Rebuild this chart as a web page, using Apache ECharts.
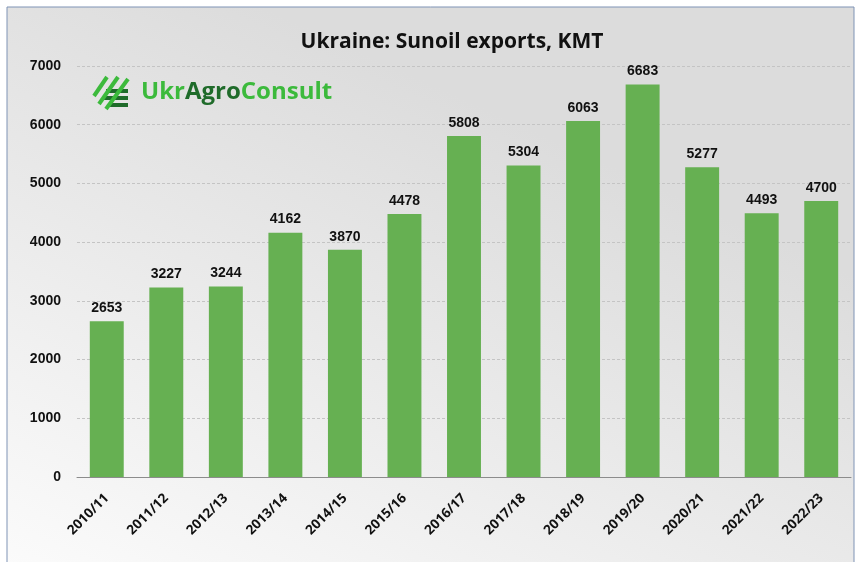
<!DOCTYPE html>
<html>
<head>
<meta charset="utf-8">
<script src="https://cdn.jsdelivr.net/npm/echarts@6/dist/echarts.min.js"></script>
<style>
  html, body { margin: 0; padding: 0; background: #ffffff; }
  #chart { width: 862px; height: 562px; }
</style>
</head>
<body>
<div id="chart"></div>
<script>
const seasons = ['2010/11', '2011/12', '2012/13', '2013/14', '2014/15', '2015/16', '2016/17',
  '2017/18', '2018/19', '2019/20', '2020/21', '2021/22', '2022/23'];
const exportsKmt = [2653, 3227, 3244, 4162, 3870, 4478, 5808, 5304, 6063, 6683, 5277, 4493, 4700];
const yTicks = [0, 1000, 2000, 3000, 4000, 5000, 6000, 7000];

const chart = echarts.init(document.getElementById('chart'));

const option = {
  animation: false,
  backgroundColor: '#ffffff',
  title: {
    text: 'Ukraine: Sunoil exports, KMT',
    left: 447,
    top: 27,
    textAlign: 'center',
    textStyle: { color: '#111', fontSize: 21, fontWeight: 'bold', fontFamily: 'Open Sans' }
  },
  graphic: [
    {
      type: 'rect', z: -10, silent: true,
      shape: { x: 7, y: 7, width: 847, height: 560 },
      style: {
        fill: new echarts.graphic.LinearGradient(0.3, 0, 0, 1, [
          { offset: 0, color: '#dcdcdc' },
          { offset: 1, color: '#fbfbfb' }
        ]),
        stroke: '#7f93b5', lineWidth: 1
      }
    },
    // logo icon: slashes + bars
    { type: 'line', z: 10, shape: { x1: 107, y1: 77, x2: 94, y2: 96 }, style: { stroke: '#3cba3c', lineWidth: 4 } },
    { type: 'line', z: 10, shape: { x1: 118, y1: 77, x2: 99, y2: 104 }, style: { stroke: '#3cba3c', lineWidth: 4 } },
    { type: 'line', z: 10, shape: { x1: 128, y1: 79, x2: 106, y2: 109 }, style: { stroke: '#3cba3c', lineWidth: 4 } },
    { type: 'rect', z: 9, shape: { x: 106, y: 89, width: 22, height: 4 }, style: { fill: '#1f6b2a' } },
    { type: 'rect', z: 9, shape: { x: 104, y: 96, width: 24, height: 4 }, style: { fill: '#1f6b2a' } },
    { type: 'rect', z: 9, shape: { x: 108, y: 103, width: 20, height: 4 }, style: { fill: '#1f6b2a' } },
    {
      type: 'text', z: 10, left: 141, top: 80,
      style: {
        text: '{a|Ukr}{b|Agro}{a|Consult}',
        rich: {
          a: { fill: '#3cba3c', fontSize: 24, fontWeight: 'bold', fontFamily: 'Open Sans' },
          b: { fill: '#1f6b2a', fontSize: 24, fontWeight: 'bold', fontFamily: 'Open Sans' }
        }
      }
    }
  ],
  grid: { left: 77, right: 11, top: 66, bottom: 85, containLabel: false },
  xAxis: {
    type: 'category',
    data: seasons,
    axisLine: { lineStyle: { color: '#8c8c8c', width: 1 } },
    axisTick: { show: false },
    axisLabel: {
      rotate: 45, color: '#111', fontSize: 13.5, fontWeight: 'bold',
      fontFamily: 'Open Sans', margin: 19
    }
  },
  yAxis: {
    type: 'value',
    min: yTicks[0],
    max: yTicks[yTicks.length - 1],
    interval: 1000,
    axisLine: { show: false },
    axisTick: { show: false },
    splitLine: { lineStyle: { color: '#c4c4c4', type: [3, 2], width: 1 } },
    axisLabel: {
      color: '#111', fontSize: 14, fontWeight: 'bold', fontFamily: 'Liberation Sans', margin: 16,
      formatter: (v) => String(v)
    }
  },
  series: [{
    type: 'bar',
    data: exportsKmt,
    barWidth: '57%',
    itemStyle: { color: '#66b052' },
    label: {
      show: true, position: 'top', distance: 6,
      color: '#111', fontSize: 14, fontWeight: 'bold', fontFamily: 'Liberation Sans'
    }
  }]
};

chart.setOption(option);
</script>
</body>
</html>
